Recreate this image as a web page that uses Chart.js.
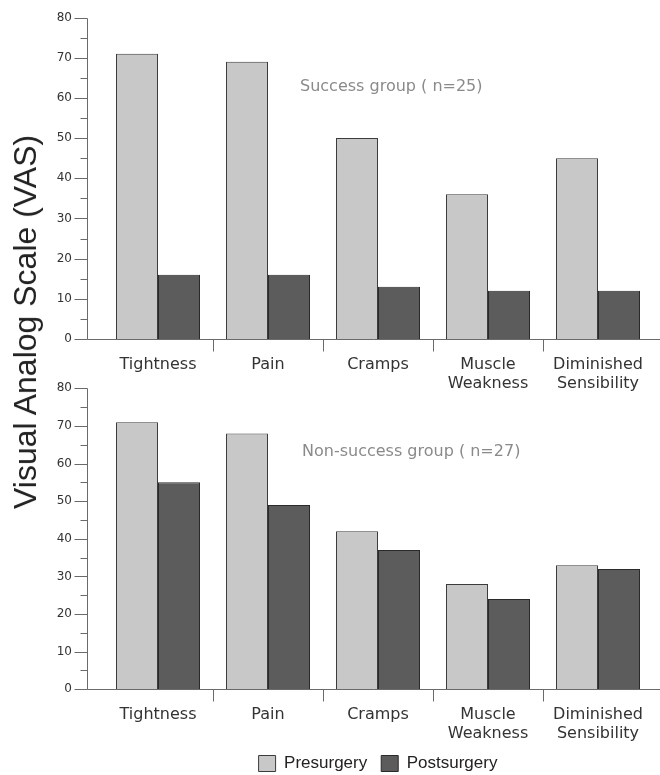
<!DOCTYPE html>
<html>
<head>
<meta charset="utf-8">
<script src="https://cdn.jsdelivr.net/npm/chart.js@4.4.1/dist/chart.umd.min.js"></script>
<style>
  html, body { margin: 0; padding: 0; background: #fff; overflow: hidden; }
  #page { position: relative; width: 660px; height: 775px; }
  canvas { position: absolute; left: 0; }
  #topChart { top: 0; }
  #bottomChart { top: 372px; }
  #yTitle {
    position: absolute; left: 25px; top: 322px;
    transform: translate(-50%, -50%) rotate(-90deg);
    font: 32px "Liberation Sans", Arial, sans-serif; line-height: 1;
    color: #222; white-space: nowrap;
  }
</style>
</head>
<body>
<div id="page">
  <canvas id="topChart" width="660" height="395"></canvas>
  <canvas id="bottomChart" width="660" height="410"></canvas>
  <div id="yTitle">Visual Analog Scale (VAS)</div>
</div>
<script>
// Symptom categories (multi-line labels as arrays)
const categories = ['Tightness', 'Pain', 'Cramps', ['Muscle', 'Weakness'], ['Diminished', 'Sensibility']];

// Success group (n=25)
const successPre  = [71, 69, 50, 36, 45];
const successPost = [16, 16, 13, 12, 12];

// Non-success group (n=27)
const nonSuccessPre  = [71, 68, 42, 28, 33];
const nonSuccessPost = [55, 49, 37, 24, 32];

// Y axis labelled values, with minor marks in between
const yTickValues = [0, 10, 20, 30, 40, 50, 60, 70, 80];
const yMinorStep = 5;

const seriesNames = ['Presurgery', 'Postsurgery'];

const PRE_FILL = '#c8c8c8', PRE_EDGE = '#3c3c3c';
const POST_FILL = '#5c5c5c', POST_EDGE = '#2a2a2a';
const AXIS = '#6a6a6a';
const LABEL_FONT = 'DejaVu Sans';

// Axis lines, y ticks and category separator marks, placed from the scales
const axisFrame = {
  id: 'axisFrame',
  afterDatasetsDraw(chart, args, opts) {
    const {ctx, chartArea, scales: {x, y}} = chart;
    const ax = Math.round(chartArea.left - opts.gap) + 0.5;
    const y0 = Math.round(y.getPixelForValue(0)) + 0.5;
    const yTop = Math.round(y.getPixelForValue(y.max)) + 0.5;
    ctx.save();
    ctx.strokeStyle = AXIS;
    ctx.lineWidth = 1;
    ctx.beginPath();
    ctx.moveTo(ax, yTop); ctx.lineTo(ax, y0);
    ctx.moveTo(ax, y0); ctx.lineTo(chart.width, y0);
    for (let v = y.min; v <= y.max; v += yMinorStep) {
      const py = Math.round(y.getPixelForValue(v)) + 0.5;
      const len = yTickValues.includes(v) ? 13 : 7;
      ctx.moveTo(ax - len, py); ctx.lineTo(ax, py);
    }
    for (let i = 1; i < categories.length; i++) {
      const px = Math.round((x.getPixelForValue(i - 1) + x.getPixelForValue(i)) / 2) + 0.5;
      ctx.moveTo(px, y0); ctx.lineTo(px, y0 + 12);
    }
    ctx.stroke();
    ctx.restore();
  }
};

// Group caption inside the plot
const groupCaption = {
  id: 'groupCaption',
  afterDraw(chart, args, opts) {
    const {ctx} = chart;
    ctx.save();
    ctx.font = '16px "' + LABEL_FONT + '"';
    ctx.fillStyle = '#8a8a8a';
    ctx.textAlign = 'left';
    ctx.textBaseline = 'alphabetic';
    ctx.fillText(opts.text, opts.x, opts.y);
    ctx.restore();
  }
};

function makeChart(id, pre, post, cfg) {
  return new Chart(document.getElementById(id), {
    type: 'bar',
    data: {
      labels: categories,
      datasets: [
        { label: seriesNames[0], data: pre, backgroundColor: PRE_FILL, borderColor: PRE_EDGE, borderWidth: 1 },
        { label: seriesNames[1], data: post, backgroundColor: POST_FILL, borderColor: POST_EDGE, borderWidth: 1 }
      ]
    },
    options: {
      responsive: false,
      animation: false,
      devicePixelRatio: 1,
      layout: { padding: { top: cfg.padTop, right: 7, left: 0, bottom: 0 } },
      datasets: { bar: { categoryPercentage: 84 / 110, barPercentage: 1.0 } },
      scales: {
        x: {
          grid: { display: false, drawTicks: false },
          border: { display: false },
          ticks: {
            padding: 16, maxRotation: 0, autoSkip: false,
            color: '#333', font: { family: LABEL_FONT, size: 16, lineHeight: 1.2 }
          },
          afterFit(scale) {
            scale.height = cfg.xHeight;
            scale.paddingLeft = 0; scale.paddingRight = 0;
          }
        },
        y: {
          min: 0, max: 80,
          grid: { display: false, drawTicks: false },
          border: { display: false },
          afterBuildTicks(scale) { scale.ticks = yTickValues.map(v => ({ value: v })); },
          ticks: { padding: 31, color: '#333', font: { family: LABEL_FONT, size: 12 } },
          afterFit(scale) {
            scale.width = 103;
            scale.paddingTop = 0; scale.paddingBottom = 0;
          }
        }
      },
      plugins: {
        legend: {
          display: cfg.legend,
          position: 'bottom',
          fullSize: false,
          labels: {
            boxWidth: 17, boxHeight: 16, padding: 14,
            color: '#222', font: { family: 'Liberation Sans', size: 17 }
          }
        },
        tooltip: { enabled: false },
        axisFrame: { gap: 16 },
        groupCaption: cfg.caption
      }
    },
    plugins: [axisFrame, groupCaption]
  });
}

makeChart('topChart', successPre, successPost, {
  padTop: 17.5, xHeight: 56, legend: false,
  caption: { text: 'Success group ( n=25)', x: 300, y: 90.7 }
});

makeChart('bottomChart', nonSuccessPre, nonSuccessPost, {
  padTop: 16.3, xHeight: 51.7, legend: true,
  caption: { text: 'Non-success group ( n=27)', x: 302, y: 84.4 }
});
</script>
</body>
</html>
